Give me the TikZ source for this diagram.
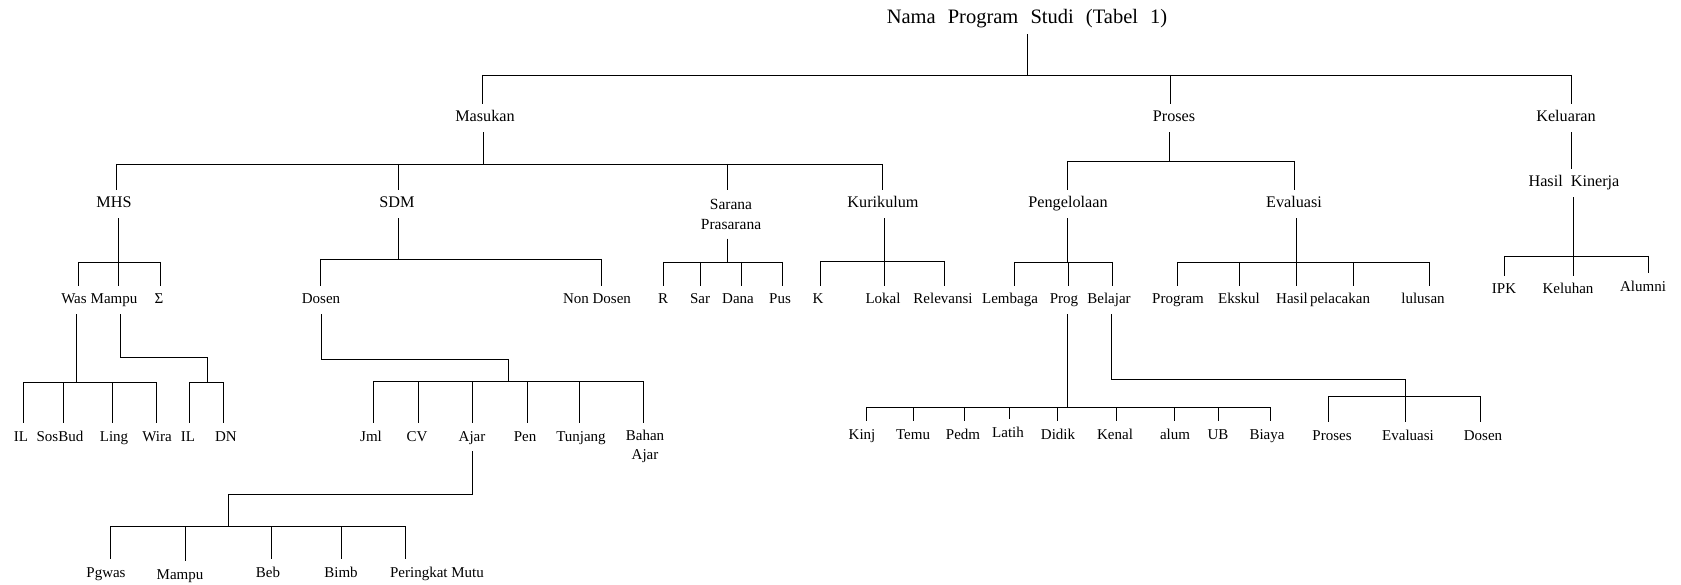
\documentclass[tikz,border=0pt]{standalone}
\usepackage{fontspec}
\setmainfont{Liberation Serif}
\usetikzlibrary{calc}
% drop from a bus down to a node, stem from a node down to a bus, and a bus line
\newcommand\tdrop[3][0]{\draw[wire] ($(#2|-#3)+(#1,0)$) -- ($(#2.north)+(#1,0)$);}
\newcommand\tstem[3][0]{\draw[wire] ($(#2.south)+(#1,0)$) -- ($(#2|-#3)+(#1,0)$);}
\newcommand\tbus[5]{\draw[wire] ($(#1|-#5)+(#2,0)$) -- ($(#3|-#5)+(#4,0)$);}
\begin{document}
\begin{tikzpicture}[x=1pt,y=-1pt,
  lbl/.style={font=\fontsize{15}{18}\selectfont, inner sep=0pt, minimum height=28pt,
              text height=11pt, text depth=3pt},
  lbig/.style={lbl, font=\fontsize{16.2}{19}\selectfont},
  two/.style={font=\fontsize{15.5}{20}\selectfont, inner sep=0pt, align=center},
  wire/.style={line width=0.9pt}]
\fill[white] (0,0) rectangle (1681,585);
\useasboundingbox (0,0) rectangle (1681,585);

% ---------- labels ----------
\node[lbl, font=\fontsize{20.5}{24}\selectfont] (title) at (1027,20)
  {Nama\hspace{7pt} Program\hspace{7pt} Studi\hspace{7pt} (Tabel\hspace{7pt} 1)};

\node[lbig] (masukan)  at (485,118)  {Masukan};
\node[lbig] (proses)   at (1174,118) {Proses};
\node[lbig] (keluaran) at (1566,118) {Keluaran};

\node[lbig] (mhs)         at (114,204)  {MHS};
\node[lbig] (sdm)         at (397,204)  {SDM};
\node[two, minimum height=48pt] (sarana) at (731,214.5) {Sarana\\Prasarana};
\node[lbig] (kurikulum)   at (883,204)  {Kurikulum};
\node[lbig] (pengelolaan) at (1068,204) {Pengelolaan};
\node[lbig] (evaluasi)    at (1294,204) {Evaluasi};
\node[lbig] (hasilk)      at (1574,183) {Hasil\hspace{4pt} Kinerja};

\node[lbl] (was)       at (74,300)   {Was};
\node[lbl] (mampuA)    at (114,300)  {Mampu};
\node[lbl] (sigma)     at (159,300)  {Σ};
\node[lbl] (dosen)     at (321,300)  {Dosen};
\node[lbl] (nondosen)  at (597,300)  {Non Dosen};
\node[lbl] (r)         at (663,300)  {R};
\node[lbl] (sar)       at (700,300)  {Sar};
\node[lbl] (dana)      at (738,300)  {Dana};
\node[lbl] (pus)       at (780,300)  {Pus};
\node[lbl] (k)         at (818,300)  {K};
\node[lbl] (lokal)     at (883,300)  {Lokal};
\node[lbl] (relevansi) at (943,300)  {Relevansi};
\node[lbl] (lembaga)   at (1010,300) {Lembaga};
\node[lbl] (prog)      at (1064,300) {Prog};
\node[lbl] (belajar)   at (1109,300) {Belajar};
\node[lbl] (program)   at (1178,300) {Program};
\node[lbl] (ekskul)    at (1239,300) {Ekskul};
\node[lbl] (hasil)     at (1292,300) {Hasil};
\node[lbl] (pelacakan) at (1340,300) {pelacakan};
\node[lbl] (lulusan)   at (1423,300) {lulusan};

\node[lbl] (ipk)     at (1504,290) {IPK};
\node[lbl] (keluhan) at (1568,290) {Keluhan};
\node[lbl] (alumni)  at (1643,287) {Alumni};

\node[lbl] (il1)    at (21,437)  {IL};
\node[lbl] (sosbud) at (60,437)  {SosBud};
\node[lbl] (ling)   at (114,437) {Ling};
\node[lbl] (wira)   at (157,437) {Wira};
\node[lbl] (il2)    at (188,437) {IL};
\node[lbl] (dn)     at (226,437) {DN};

\node[lbl] (jml)     at (371,437) {Jml};
\node[lbl] (cv)      at (417,437) {CV};
\node[lbl] (ajar)    at (472,437) {Ajar};
\node[lbl] (pen)     at (525,437) {Pen};
\node[lbl] (tunjang) at (581,437) {Tunjang};
\node[two, font=\fontsize{15}{19}\selectfont, minimum height=47pt] (bahan) at (645,446.5) {Bahan\\Ajar};

\node[lbl] (kinj)  at (862,435)  {Kinj};
\node[lbl] (temu)  at (913,435)  {Temu};
\node[lbl] (pedm)  at (963,435)  {Pedm};
\node[lbl] (latih) at (1008,433) {Latih};
\node[lbl] (didik) at (1058,435) {Didik};
\node[lbl] (kenal) at (1115,435) {Kenal};
\node[lbl] (alum)  at (1175,435) {alum};
\node[lbl] (ub)    at (1218,435) {UB};
\node[lbl] (biaya) at (1267,435) {Biaya};

\node[lbl] (proses2)   at (1332,436) {Proses};
\node[lbl] (evaluasi2) at (1408,436) {Evaluasi};
\node[lbl] (dosen2)    at (1483,436) {Dosen};

\node[lbl] (pgwas)     at (106,573) {Pgwas};
\node[lbl] (mampuB)    at (180,575) {Mampu};
\node[lbl] (beb)       at (268,573) {Beb};
\node[lbl] (bimb)      at (341,573) {Bimb};
\node[lbl] (peringkat) at (437,573) {Peringkat Mutu};

% ---------- bus heights ----------
\coordinate (bTop)  at (0,75);
\coordinate (bMas)  at (0,164);
\coordinate (bPro)  at (0,161);
\coordinate (bMHS)  at (0,262);
\coordinate (bSDM)  at (0,259);
\coordinate (bSar)  at (0,262);
\coordinate (bKur)  at (0,261);
\coordinate (bPen)  at (0,262);
\coordinate (bEva)  at (0,262);
\coordinate (bHK)   at (0,256);
\coordinate (bWas)  at (0,382);
\coordinate (bMamE) at (0,357);
\coordinate (bIL)   at (0,382);
\coordinate (bDosE) at (0,359);
\coordinate (bDos)  at (0,381);
\coordinate (bAjE)  at (0,494);
\coordinate (bAj)   at (0,526);
\coordinate (bProg) at (0,407);
\coordinate (bBelE) at (0,379);
\coordinate (bBel)  at (0,396);
\coordinate (jIL)  at ($(il2|-bIL)!0.5!(dn|-bIL)$);
\coordinate (jDos) at ($(jml|-bDos)!0.5!(bahan|-bDos)$);
\coordinate (jAj)  at (228,526);

% ---------- top level ----------
\tstem{title}{bTop}
\tbus{masukan}{-3}{keluaran}{5}{bTop}
\foreach \n/\d in {masukan/-3, proses/-4, keluaran/5} {\tdrop[\d]{\n}{bTop}}

% Masukan
\tstem[-2]{masukan}{bMas}
\tbus{mhs}{2}{kurikulum}{-1}{bMas}
\foreach \n/\d in {mhs/2, sdm/1, sarana/-4, kurikulum/-1} {\tdrop[\d]{\n}{bMas}}

% Proses
\tstem[-5]{proses}{bPro}
\tbus{pengelolaan}{-1}{evaluasi}{0}{bPro}
\foreach \n/\d in {pengelolaan/-1, evaluasi/0} {\tdrop[\d]{\n}{bPro}}

% Keluaran
\draw[wire] ($(keluaran.south)+(5,0)$) -- ($(keluaran.south|-hasilk.north)+(5,0)$);
\tstem[-1]{hasilk}{bHK}
\tbus{ipk}{0}{alumni}{5}{bHK}
\foreach \n/\d in {ipk/0, keluhan/5, alumni/5} {\tdrop[\d]{\n}{bHK}}

% MHS
\tstem[4]{mhs}{bMHS}
\tbus{was}{4}{sigma}{1}{bMHS}
\foreach \n/\d in {was/4, mampuA/4, sigma/1} {\tdrop[\d]{\n}{bMHS}}

\tstem[2]{was}{bWas}
\tbus{il1}{2}{wira}{-1}{bWas}
\foreach \n/\d in {il1/2, sosbud/3, ling/-2, wira/-1} {\tdrop[\d]{\n}{bWas}}

\draw[wire] ($(mampuA.south)+(6,0)$) |- (jIL|-bMamE) -- (jIL);
\tbus{il2}{1}{dn}{-3}{bIL}
\foreach \n/\d in {il2/1, dn/-3} {\tdrop[\d]{\n}{bIL}}

% SDM
\tstem[1]{sdm}{bSDM}
\tbus{dosen}{-1}{nondosen}{4}{bSDM}
\foreach \n/\d in {dosen/-1, nondosen/4} {\tdrop[\d]{\n}{bSDM}}

\draw[wire] (dosen.south) |- (jDos|-bDosE) -- (jDos);
\tbus{jml}{2}{bahan}{-2}{bDos}
\foreach \n/\d in {jml/2, cv/1, ajar/0, pen/2, tunjang/-2, bahan/-2} {\tdrop[\d]{\n}{bDos}}

\draw[wire] (ajar.south) |- (jAj|-bAjE) -- (jAj);
\tbus{pgwas}{4}{peringkat}{-32}{bAj}
\foreach \n/\d in {pgwas/4, mampuB/5, beb/3, bimb/0, peringkat/-32} {\tdrop[\d]{\n}{bAj}}

% Sarana Prasarana
\tstem[-4]{sarana}{bSar}
\tbus{r}{0}{pus}{2}{bSar}
\foreach \n/\d in {r/0, sar/0, dana/3, pus/2} {\tdrop[\d]{\n}{bSar}}

% Kurikulum
\tstem[1]{kurikulum}{bKur}
\tbus{k}{2}{relevansi}{1}{bKur}
\foreach \n/\d in {k/2, lokal/1, relevansi/1} {\tdrop[\d]{\n}{bKur}}

% Pengelolaan
\tstem[-1]{pengelolaan}{bPen}
\tbus{lembaga}{4}{belajar}{3}{bPen}
\foreach \n/\d in {lembaga/4, prog/4, belajar/3} {\tdrop[\d]{\n}{bPen}}

\tstem[3]{prog}{bProg}
\tbus{kinj}{4}{biaya}{3}{bProg}
\foreach \n/\d in {kinj/4, temu/0, pedm/1, latih/1, didik/-1, kenal/1, alum/-1, ub/0, biaya/3} {\tdrop[\d]{\n}{bProg}}

\draw[wire] ($(belajar.south)+(2,0)$) |- ($(evaluasi2|-bBelE)+(-3,0)$) -- ($(evaluasi2|-bBel)+(-3,0)$);
\tbus{proses2}{-4}{dosen2}{-3}{bBel}
\foreach \n/\d in {proses2/-4, evaluasi2/-3, dosen2/-3} {\tdrop[\d]{\n}{bBel}}

% Evaluasi
\tstem[2]{evaluasi}{bEva}
\tbus{program}{-1}{lulusan}{6}{bEva}
\foreach \n/\d in {program/-1, ekskul/0, hasil/4, pelacakan/13, lulusan/6} {\tdrop[\d]{\n}{bEva}}
\end{tikzpicture}
\end{document}
